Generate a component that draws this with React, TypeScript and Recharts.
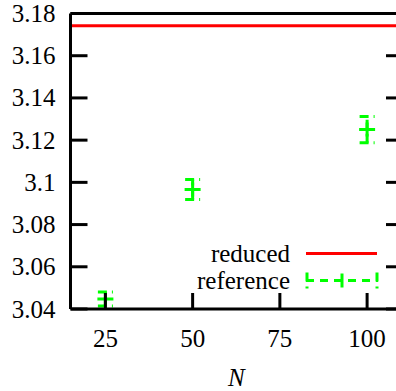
import {
    ComposedChart,
    Scatter,
    XAxis,
    YAxis,
    ReferenceLine,
    ErrorBar,
} from 'recharts';

// values
const nValues = [25, 50, 100];
const referenceValues = [3.0447, 3.0966, 3.125];
const referenceErrors = [0.0033, 0.0047, 0.0062];
const reducedValue = 3.1742;

const xTicks = [25, 50, 75, 100];
const yTicks = [3.04, 3.06, 3.08, 3.1, 3.12, 3.14, 3.16, 3.18];

const FONT = 'Liberation Serif';
const FS = 25;
const GREEN = '#00ff00';
const RED = '#ff0000';

const data = nValues.map((n, i) => ({
    n,
    value: referenceValues[i],
    err: referenceErrors[i],
}));

const fmtY = (v: number) => String(Number(v.toFixed(2)));

// gnuplot style: ticks point inwards
const BottomTick = ({ x, y, payload }: any) => (
    <g>
        <line x1={x} y1={y} x2={x} y2={y - 16} stroke="#000" strokeWidth={3} />
        <text x={x} y={y + 29} textAnchor="middle" dominantBaseline="central" fontFamily={FONT} fontSize={FS} fill="#000">
            {payload.value}
        </text>
    </g>
);

const TopTick = ({ x, y }: any) => (
    <line x1={x} y1={y} x2={x} y2={y + 17} stroke="#000" strokeWidth={3} />
);

const LeftTick = ({ x, y, payload }: any) => (
    <g>
        <line x1={x} y1={y} x2={x + 17} y2={y} stroke="#000" strokeWidth={3} />
        <text x={x - 15} y={y} textAnchor="end" dominantBaseline="central" fontFamily={FONT} fontSize={FS} fill="#000">
            {fmtY(payload.value)}
        </text>
    </g>
);

const RightTick = ({ x, y }: any) => (
    <line x1={x} y1={y} x2={x - 16} y2={y} stroke="#000" strokeWidth={3} />
);

const PlusShape = ({ cx, cy }: any) => (
    <g stroke={GREEN} strokeWidth={3}>
        <line x1={cx - 8} y1={cy} x2={cx + 8} y2={cy} />
        <line x1={cx} y1={cy - 7} x2={cx} y2={cy + 7} />
    </g>
);

function ChartLegend() {
    return (
        <div style={{ position: 'absolute', left: 170, top: 240, fontFamily: FONT, fontSize: FS, color: '#000', lineHeight: '27px' }}>
            <div style={{ display: 'flex', alignItems: 'center', height: 27 }}>
                <span style={{ width: 120, textAlign: 'right' }}>reduced</span>
                <svg width={100} height={27}>
                    <line x1={16} y1={13.5} x2={87} y2={13.5} stroke={RED} strokeWidth={3} />
                </svg>
            </div>
            <div style={{ display: 'flex', alignItems: 'center', height: 27 }}>
                <span style={{ width: 120, textAlign: 'right' }}>reference</span>
                <svg width={100} height={27}>
                    <g stroke={GREEN} strokeWidth={3}>
                        <line x1={16} y1={13.5} x2={88} y2={13.5} strokeDasharray="8 6" />
                        <line x1={17} y1={5.5} x2={17} y2={21.5} strokeDasharray="9 5" />
                        <line x1={87} y1={5.5} x2={87} y2={21.5} strokeDasharray="9 5" />
                        <line x1={52} y1={6.5} x2={52} y2={20.5} />
                    </g>
                </svg>
            </div>
        </div>
    );
}

export default function App() {
    return (
        <div style={{ position: 'absolute', left: 0, top: 0, width: 396, height: 391, overflow: 'hidden', background: '#fff' }}>
            <ComposedChart width={410} height={391} data={data} margin={{ top: 0, right: 0, bottom: 0, left: 0 }}>
                <XAxis
                    dataKey="n"
                    type="number"
                    domain={[15, 110]}
                    allowDataOverflow
                    ticks={xTicks}
                    height={82}
                    tickSize={0}
                    tickMargin={0}
                    tickLine={false}
                    tick={<BottomTick />}
                    axisLine={{ stroke: '#000', strokeWidth: 3 }}
                    label={{ value: 'N', position: 'insideBottom', offset: 5, fontStyle: 'italic', fontFamily: FONT, fontSize: FS, fill: '#000' }}
                />
                <XAxis
                    xAxisId="top"
                    orientation="top"
                    type="number"
                    domain={[15, 110]}
                    allowDataOverflow
                    ticks={xTicks}
                    height={13.5}
                    tickSize={0}
                    tickMargin={0}
                    tickLine={false}
                    tick={<TopTick />}
                    axisLine={{ stroke: '#000', strokeWidth: 3 }}
                />
                <YAxis
                    type="number"
                    domain={[3.04, 3.18]}
                    allowDataOverflow
                    ticks={yTicks}
                    width={70.5}
                    tickSize={0}
                    tickMargin={0}
                    tickLine={false}
                    tick={<LeftTick />}
                    axisLine={{ stroke: '#000', strokeWidth: 3 }}
                />
                <YAxis
                    yAxisId="right"
                    orientation="right"
                    type="number"
                    domain={[3.04, 3.18]}
                    allowDataOverflow
                    ticks={yTicks}
                    width={8}
                    tickSize={0}
                    tickMargin={0}
                    tickLine={false}
                    tick={<RightTick />}
                    axisLine={{ stroke: '#000', strokeWidth: 3 }}
                />
                <ReferenceLine y={reducedValue} stroke={RED} strokeWidth={3} />
                <Scatter dataKey="value" name="reference" shape={<PlusShape />} isAnimationActive={false}>
                    <ErrorBar
                        dataKey="err"
                        direction="y"
                        width={7.5}
                        stroke={GREEN}
                        strokeWidth={3}
                        strokeDasharray="9 5"
                        isAnimationActive={false}
                    />
                </Scatter>
            </ComposedChart>
            <ChartLegend />
        </div>
    );
}
